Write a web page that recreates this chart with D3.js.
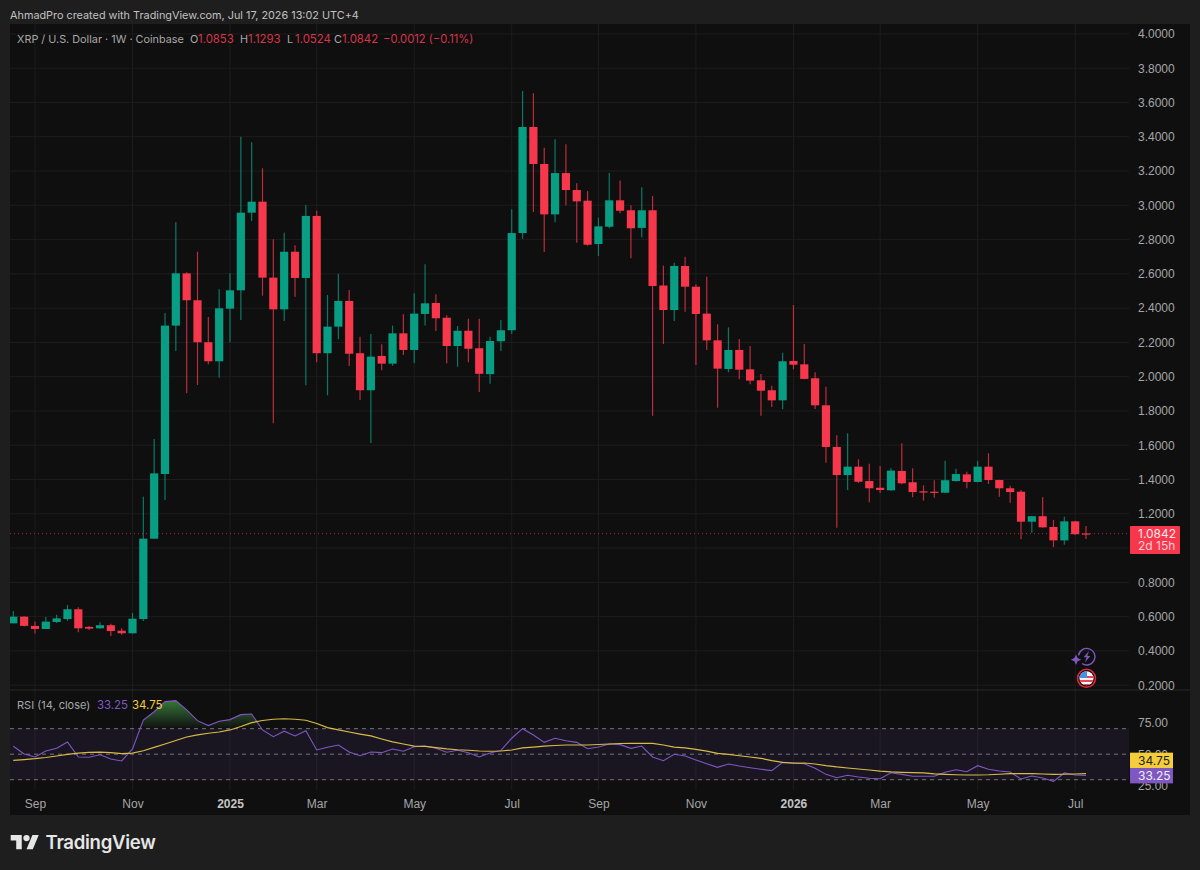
<!DOCTYPE html>
<html>
<head>
<meta charset="utf-8">
<style>
  html, body { margin: 0; padding: 0; background: #1e1e1e; }
  svg { display: block; font-family: Inter, "Noto Sans", sans-serif; }
</style>
</head>
<body>
<div id="chart"></div>
<script src="https://cdn.jsdelivr.net/npm/d3@7"></script>
<script>
// weekly candles
const opens = [
  0.561, 0.600, 0.546, 0.528, 0.569, 0.586, 0.643, 0.540, 0.532, 0.550,
  0.518, 0.503, 0.586, 1.055, 1.432, 2.298, 2.603, 2.446, 2.201, 2.090,
  2.397, 2.504, 2.957, 3.021, 2.578, 2.393, 2.729, 2.576, 2.938, 2.137,
  2.292, 2.442, 2.137, 1.921, 2.121, 2.076, 2.253, 2.156, 2.366, 2.430,
  2.344, 2.179, 2.268, 2.166, 2.015, 2.207, 2.271, 2.838, 3.457, 3.241,
  2.947, 3.188, 3.089, 3.027, 2.774, 2.875, 3.029, 2.971, 2.868, 2.971,
  2.532, 2.389, 2.646, 2.525, 2.368, 2.212, 2.045, 2.156, 2.043, 1.979,
  1.921, 1.862, 2.092, 2.072, 1.991, 1.833, 1.590, 1.426, 1.475, 1.391,
  1.352, 1.337, 1.450, 1.384, 1.331, 1.329, 1.323, 1.391, 1.430, 1.386,
  1.475, 1.397, 1.349, 1.329, 1.154, 1.186, 1.123, 1.045, 1.156, 1.0853
];
const highs = [
  0.633, 0.603, 0.571, 0.598, 0.611, 0.668, 0.655, 0.546, 0.567, 0.559,
  0.532, 0.621, 1.300, 1.637, 2.370, 2.901, 2.609, 2.729, 2.348, 2.510,
  2.603, 3.400, 3.368, 3.216, 2.802, 2.840, 2.767, 3.002, 2.968, 2.477,
  2.599, 2.506, 2.233, 2.249, 2.189, 2.298, 2.364, 2.487, 2.656, 2.481,
  2.358, 2.296, 2.338, 2.338, 2.233, 2.331, 2.977, 3.667, 3.653, 3.336,
  3.385, 3.356, 3.128, 3.083, 2.928, 3.188, 3.144, 3.000, 3.105, 3.054,
  2.648, 2.665, 2.700, 2.540, 2.583, 2.306, 2.288, 2.220, 2.179, 2.016,
  1.947, 2.140, 2.418, 2.191, 2.026, 1.942, 1.658, 1.670, 1.518, 1.492,
  1.479, 1.466, 1.611, 1.466, 1.366, 1.396, 1.510, 1.463, 1.446, 1.510,
  1.553, 1.399, 1.364, 1.339, 1.188, 1.296, 1.164, 1.183, 1.160, 1.1293
];
const lows = [
  0.561, 0.543, 0.501, 0.528, 0.563, 0.575, 0.509, 0.522, 0.530, 0.487,
  0.495, 0.500, 0.575, 1.055, 1.281, 2.150, 1.903, 1.952, 2.072, 1.994,
  2.201, 2.331, 2.908, 2.473, 1.728, 2.325, 2.467, 1.950, 2.084, 1.891,
  2.218, 2.062, 1.864, 1.613, 2.037, 2.064, 2.127, 2.078, 2.298, 2.267,
  2.078, 2.058, 2.084, 1.911, 1.959, 2.150, 2.249, 2.805, 2.961, 2.728,
  2.901, 3.000, 2.782, 2.764, 2.704, 2.866, 2.953, 2.691, 2.813, 1.772,
  2.191, 2.325, 2.379, 2.068, 2.156, 1.819, 2.026, 1.985, 1.956, 1.772,
  1.823, 1.810, 2.043, 1.985, 1.812, 1.498, 1.119, 1.339, 1.380, 1.267,
  1.321, 1.335, 1.372, 1.296, 1.277, 1.294, 1.322, 1.388, 1.349, 1.384,
  1.374, 1.300, 1.265, 1.051, 1.090, 1.119, 1.006, 1.020, 1.077, 1.0524
];
const closes = [
  0.600, 0.546, 0.528, 0.571, 0.590, 0.643, 0.532, 0.530, 0.550, 0.516,
  0.503, 0.588, 1.055, 1.436, 2.298, 2.603, 2.446, 2.201, 2.090, 2.399,
  2.504, 2.957, 3.021, 2.578, 2.393, 2.729, 2.576, 2.938, 2.137, 2.292,
  2.442, 2.134, 1.921, 2.117, 2.076, 2.253, 2.156, 2.368, 2.428, 2.341,
  2.179, 2.268, 2.163, 2.017, 2.208, 2.271, 2.838, 3.457, 3.241, 2.947,
  3.188, 3.089, 3.023, 2.770, 2.877, 3.029, 2.968, 2.866, 2.971, 2.529,
  2.389, 2.646, 2.525, 2.366, 2.212, 2.047, 2.156, 2.041, 1.977, 1.918,
  1.862, 2.090, 2.070, 1.987, 1.833, 1.590, 1.426, 1.475, 1.387, 1.349,
  1.339, 1.452, 1.378, 1.327, 1.327, 1.326, 1.396, 1.432, 1.386, 1.475,
  1.397, 1.349, 1.327, 1.154, 1.186, 1.121, 1.045, 1.156, 1.081, 1.0842
];
const rsiValues = [
  56.2, 50.2, 47.8, 52.5, 54.6, 59.6, 47.8, 47.6, 49.6, 46.2,
  44.7, 54.1, 76.8, 83.3, 91.2, 92.0, 84.7, 76.3, 72.4, 75.8,
  77.1, 81.0, 81.5, 69.0, 63.7, 68.0, 64.3, 68.4, 53.3, 55.4,
  57.2, 51.7, 48.8, 51.7, 51.2, 54.1, 52.3, 55.9, 56.4, 54.6,
  51.5, 53.1, 51.2, 47.8, 50.9, 53.1, 62.5, 70.0, 65.1, 59.3,
  62.5, 60.6, 59.3, 54.3, 55.6, 58.0, 57.5, 54.6, 56.4, 47.8,
  44.9, 49.9, 48.6, 45.5, 42.5, 39.7, 42.3, 40.7, 39.4, 38.2,
  37.1, 43.6, 43.2, 42.5, 38.9, 34.2, 31.6, 33.5, 32.1, 31.1,
  30.8, 35.5, 34.2, 32.7, 32.7, 32.7, 35.8, 37.8, 36.3, 41.0,
  38.2, 36.8, 36.0, 30.6, 32.9, 31.3, 28.7, 35.3, 33.7, 33.25
];
const rsiMaValues = [
  45.2, 45.8, 46.5, 47.4, 48.6, 49.8, 50.9, 51.5, 51.7, 51.2,
  50.4, 50.9, 52.7, 55.3, 58.0, 60.7, 63.5, 65.1, 66.4, 67.4,
  69.0, 71.7, 74.7, 76.4, 77.4, 77.8, 77.4, 76.6, 74.1, 70.8,
  69.0, 67.4, 65.8, 64.3, 61.9, 59.6, 58.0, 56.4, 56.2, 55.1,
  54.1, 53.5, 53.1, 52.5, 52.3, 52.5, 53.3, 54.9, 55.6, 56.4,
  56.8, 57.2, 57.2, 57.2, 57.6, 58.0, 58.4, 58.5, 58.6, 58.5,
  57.2, 55.6, 54.9, 53.8, 52.4, 50.7, 49.8, 48.8, 47.8, 46.8,
  44.9, 43.6, 42.9, 43.1, 42.3, 41.0, 40.0, 39.2, 38.4, 37.6,
  36.8, 36.2, 35.8, 35.5, 35.3, 34.6, 34.2, 33.9, 33.7, 33.7,
  33.9, 34.3, 34.7, 34.7, 34.7, 34.5, 34.2, 34.3, 34.5, 34.75
];

const priceTicks = [4, 3.8, 3.6, 3.4, 3.2, 3, 2.8, 2.6, 2.4, 2.2, 2, 1.8, 1.6, 1.4, 1.2, 0.8, 0.6, 0.4, 0.2];
const priceGrid = [4, 3.8, 3.6, 3.4, 3.2, 3, 2.8, 2.6, 2.4, 2.2, 2, 1.8, 1.6, 1.4, 1.2, 1, 0.8, 0.6, 0.4, 0.2];
const rsiTicks = [75, 50, 25];
const rsiLevels = [70, 50, 30];
const timeTickWeeks = [2, 11, 20, 28, 37, 46, 54, 63, 72, 80, 89, 98];
const timeTickLabels = ['Sep', 'Nov', '2025', 'Mar', 'May', 'Jul', 'Sep', 'Nov', '2026', 'Mar', 'May', 'Jul'];

const lastPrice = 1.0842;
const rsiLast = 33.25;
const rsiMaLast = 34.75;

const legendItems = [
  ['XRP / U.S. Dollar · 1W · Coinbase', 17, '#a9a9a9', 10.85],
  ['O', 190, '#a9a9a9', 10.85], ['1.0853', 198, '#d8354a', 11.4],
  ['H', 240, '#a9a9a9', 10.85], ['1.1293', 248, '#d8354a', 11.4],
  ['L', 287, '#a9a9a9', 10.85], ['1.0524', 295, '#d8354a', 11.4],
  ['C', 334, '#a9a9a9', 10.85], ['1.0842', 342, '#d8354a', 11.4],
  ['−0.0012 (−0.11%)', 383, '#d8354a', 11.2]
];

const up = '#089e83';
const down = '#f7374c';
const axisText = '#a6a6a6';
const gridColor = '#1d1d1d';
const width = 1200;
const height = 870;
const plotLeft = 10;
const plotRight = 1129;

const candles = opens.map((o, i) => ({ i, o, h: highs[i], l: lows[i], c: closes[i] }));

const x = d3.scaleLinear().domain([0, 99]).range([13.3, 1086]);
const y = d3.scaleLinear().domain([0.2, 4]).range([685.2, 33.9]);
const yRsi = d3.scaleLinear().domain([25, 75]).range([786.1, 722.3]);

const svg = d3.select('#chart')
  .append('svg')
  .attr('width', width)
  .attr('height', height)
  .attr('viewBox', [0, 0, width, height]);

const defs = svg.append('defs');
defs.append('clipPath').attr('id', 'plot-clip')
  .append('rect').attr('x', plotLeft).attr('y', 24).attr('width', plotRight - plotLeft).attr('height', 768);
defs.append('clipPath').attr('id', 'above-70')
  .append('rect').attr('x', plotLeft).attr('y', 690).attr('width', plotRight - plotLeft).attr('height', yRsi(70) - 690);
defs.append('clipPath').attr('id', 'below-30')
  .append('rect').attr('x', plotLeft).attr('y', yRsi(30)).attr('width', plotRight - plotLeft).attr('height', 12);
const flagClip = defs.append('clipPath').attr('id', 'flag-clip');
flagClip.append('circle').attr('cx', 1086.5).attr('cy', 678.3).attr('r', 7);

const greenGrad = defs.append('linearGradient').attr('id', 'rsi-green')
  .attr('gradientUnits', 'userSpaceOnUse')
  .attr('x1', 0).attr('x2', 0).attr('y1', yRsi(92)).attr('y2', yRsi(70));
greenGrad.append('stop').attr('offset', 0).attr('stop-color', '#4caf50').attr('stop-opacity', 0.65);
greenGrad.append('stop').attr('offset', 1).attr('stop-color', '#4caf50').attr('stop-opacity', 0);

// page and panel
svg.append('rect').attr('width', width).attr('height', height).attr('fill', '#1e1e1e');
svg.append('rect').attr('x', plotLeft).attr('y', 24).attr('width', 1180).attr('height', 791).attr('fill', '#0f0f0f');

// grid
const grid = svg.append('g').attr('stroke', gridColor).attr('stroke-width', 1);
grid.selectAll('line.h')
  .data(priceGrid)
  .join('line')
  .attr('class', 'h')
  .attr('x1', plotLeft).attr('x2', plotRight)
  .attr('y1', d => y(d)).attr('y2', d => y(d));
grid.selectAll('line.v')
  .data(timeTickWeeks)
  .join('line')
  .attr('class', 'v')
  .attr('x1', d => x(d)).attr('x2', d => x(d))
  .attr('y1', 24).attr('y2', 790);

svg.append('line')
  .attr('x1', plotLeft).attr('x2', 1190)
  .attr('y1', 690).attr('y2', 690)
  .attr('stroke', '#2b2b2b');

// current price line
svg.append('line')
  .attr('x1', plotLeft).attr('x2', plotRight)
  .attr('y1', y(lastPrice)).attr('y2', y(lastPrice))
  .attr('stroke', down)
  .attr('stroke-opacity', 0.65)
  .attr('stroke-dasharray', '1 3');

// candles
const candleG = svg.append('g').attr('clip-path', 'url(#plot-clip)');
candleG.selectAll('line')
  .data(candles)
  .join('line')
  .attr('x1', d => x(d.i)).attr('x2', d => x(d.i))
  .attr('y1', d => y(d.h)).attr('y2', d => y(d.l))
  .attr('stroke', d => d.c >= d.o ? up : down)
  .attr('stroke-opacity', 0.75)
  .attr('stroke-width', 1.2);
candleG.selectAll('rect')
  .data(candles)
  .join('rect')
  .attr('x', d => x(d.i) - 4.1)
  .attr('width', 8.2)
  .attr('y', d => y(Math.max(d.o, d.c)))
  .attr('height', d => Math.max(1.2, Math.abs(y(d.o) - y(d.c))))
  .attr('fill', d => d.c >= d.o ? up : down);

// RSI pane
svg.append('rect')
  .attr('x', plotLeft).attr('width', plotRight - plotLeft)
  .attr('y', yRsi(70)).attr('height', yRsi(30) - yRsi(70))
  .attr('fill', '#7e57c2').attr('fill-opacity', 0.1);

svg.selectAll('line.level')
  .data(rsiLevels)
  .join('line')
  .attr('class', 'level')
  .attr('x1', plotLeft).attr('x2', plotRight)
  .attr('y1', d => yRsi(d)).attr('y2', d => yRsi(d))
  .attr('stroke', '#77757f')
  .attr('stroke-dasharray', '4 4');

const rsiArea70 = d3.area().x((d, i) => x(i)).y0(yRsi(70)).y1(d => yRsi(d));
svg.append('path')
  .datum(rsiValues)
  .attr('clip-path', 'url(#above-70)')
  .attr('fill', 'url(#rsi-green)')
  .attr('d', rsiArea70);
const rsiArea30 = d3.area().x((d, i) => x(i)).y0(yRsi(30)).y1(d => yRsi(d));
svg.append('path')
  .datum(rsiValues)
  .attr('clip-path', 'url(#below-30)')
  .attr('fill', '#f23645').attr('fill-opacity', 0.25)
  .attr('d', rsiArea30);

const rsiLine = d3.line().x((d, i) => x(i)).y(d => yRsi(d));
svg.append('path')
  .datum(rsiValues)
  .attr('clip-path', 'url(#plot-clip)')
  .attr('fill', 'none')
  .attr('stroke', '#7e57c2')
  .attr('stroke-width', 1.1)
  .attr('d', rsiLine);
svg.append('path')
  .datum(rsiMaValues)
  .attr('clip-path', 'url(#plot-clip)')
  .attr('fill', 'none')
  .attr('stroke', '#d8bb45')
  .attr('stroke-width', 1.2)
  .attr('d', rsiLine);

// axes
function styleAxis(g) {
  g.select('.domain').remove();
  g.selectAll('line').remove();
  g.selectAll('text').attr('fill', axisText).attr('font-size', 12).attr('font-family', null);
}

svg.append('g')
  .attr('transform', 'translate(1138,0)')
  .call(d3.axisRight(y).tickValues(priceTicks).tickFormat(d3.format('.4f')).tickSize(0).tickPadding(0))
  .call(styleAxis);

svg.append('g')
  .attr('transform', 'translate(1138,0)')
  .call(d3.axisRight(yRsi).tickValues(rsiTicks).tickFormat(d3.format('.2f')).tickSize(0).tickPadding(0))
  .call(styleAxis);

svg.append('g')
  .attr('transform', 'translate(0,799)')
  .call(d3.axisBottom(x).tickValues(timeTickWeeks).tickFormat((d, i) => timeTickLabels[i]).tickSize(0).tickPadding(0))
  .call(styleAxis)
  .selectAll('text')
  .attr('font-weight', (d, i) => timeTickLabels[i].length === 4 ? 700 : 400)
  .attr('fill', (d, i) => timeTickLabels[i].length === 4 ? '#c4c4c4' : axisText);

// last price tag
svg.append('rect')
  .attr('x', 1130).attr('y', y(lastPrice) - 7.7)
  .attr('width', 50).attr('height', 28)
  .attr('rx', 1)
  .attr('fill', down);
svg.append('text')
  .attr('x', 1138).attr('y', y(lastPrice) + 4.3)
  .attr('fill', '#ffe9ec').attr('font-size', 12)
  .text(d3.format('.4f')(lastPrice));
svg.append('text')
  .attr('x', 1138).attr('y', y(lastPrice) + 16.6)
  .attr('fill', '#ffd0d6').attr('font-size', 12)
  .text('2d 15h');

// RSI tags
svg.append('rect')
  .attr('x', 1130).attr('y', yRsi(rsiMaLast) - 21)
  .attr('width', 43).attr('height', 15.4)
  .attr('fill', '#f5cd3a');
svg.append('text')
  .attr('x', 1138).attr('y', yRsi(rsiMaLast) - 9)
  .attr('fill', '#222').attr('font-size', 12)
  .text(d3.format('.2f')(rsiMaLast));
svg.append('rect')
  .attr('x', 1130).attr('y', yRsi(rsiLast) - 7.6)
  .attr('width', 43).attr('height', 15.4)
  .attr('fill', '#7e57c2');
svg.append('text')
  .attr('x', 1138).attr('y', yRsi(rsiLast) + 4.4)
  .attr('fill', '#eee').attr('font-size', 12)
  .text(d3.format('.2f')(rsiLast));

// header and legends
svg.append('text')
  .attr('x', 10).attr('y', 18.5)
  .attr('fill', '#c2c2c2').attr('font-size', 10.85)
  .text('AhmadPro created with TradingView.com, Jul 17, 2026 13:02 UTC+4');

svg.selectAll('text.legend')
  .data(legendItems)
  .join('text')
  .attr('class', 'legend')
  .attr('x', d => d[1])
  .attr('y', 43)
  .attr('fill', d => d[2])
  .attr('font-size', d => d[3])
  .text(d => d[0]);

svg.append('text').attr('x', 17).attr('y', 709).attr('fill', '#a9a9a9').attr('font-size', 11).text('RSI (14, close)');
svg.append('text').attr('x', 97).attr('y', 709).attr('fill', '#7e57c2').attr('font-size', 11.4).text(rsiLast);
svg.append('text').attr('x', 132).attr('y', 709).attr('fill', '#f5cd3a').attr('font-size', 11.4).text(rsiMaLast);

// event icons
const bolt = svg.append('g').attr('fill', '#7e57c2');
bolt.append('path')
  .attr('d', d3.arc()({ innerRadius: 7.6, outerRadius: 9, startAngle: -1.4, endAngle: 3.75 }))
  .attr('transform', 'translate(1086.7,656.7)');
bolt.append('path')
  .attr('d', 'M1089 651l-5.4 6.2h3l-1.8 5.2 5.5-6.5h-3z');
bolt.append('path')
  .attr('d', 'M1076 654.5l1.6 3.6 3.6 1.6-3.6 1.6-1.6 3.6-1.6-3.6-3.6-1.6 3.6-1.6z');

const flag = svg.append('g');
flag.append('circle').attr('cx', 1086.5).attr('cy', 678.3).attr('r', 9)
  .attr('fill', '#0f0f0f').attr('stroke', '#e02a3c').attr('stroke-width', 1.5);
const flagInner = flag.append('g').attr('clip-path', 'url(#flag-clip)');
flagInner.append('rect').attr('x', 1079).attr('y', 671).attr('width', 16).attr('height', 15).attr('fill', '#f3f3f3');
flagInner.append('rect').attr('x', 1079).attr('y', 676).attr('width', 16).attr('height', 2).attr('fill', '#e9455a');
flagInner.append('rect').attr('x', 1079).attr('y', 680).attr('width', 16).attr('height', 2).attr('fill', '#e9455a');
flagInner.append('rect').attr('x', 1079).attr('y', 684).attr('width', 16).attr('height', 2).attr('fill', '#e9455a');
flagInner.append('rect').attr('x', 1079).attr('y', 671).attr('width', 8).attr('height', 7).attr('fill', '#4a90e2');

// logo
svg.append('path')
  .attr('d', 'M14 22H7V11H0V4h14v18zM28 22h-8l7.5-18h8L28 22z')
  .attr('transform', 'translate(10.7,831.8) scale(0.79)')
  .attr('fill', '#e6e6e6');
svg.append('circle')
  .attr('cx', 10.7 + 20 * 0.79).attr('cy', 831.8 + 8 * 0.79).attr('r', 4 * 0.79)
  .attr('fill', '#e6e6e6');
svg.append('text')
  .attr('x', 45.5).attr('y', 849)
  .attr('fill', '#e6e6e6')
  .attr('font-size', 18.6)
  .attr('font-weight', 600)
  .attr('letter-spacing', -0.3)
  .text('TradingView');
</script>
</body>
</html>
